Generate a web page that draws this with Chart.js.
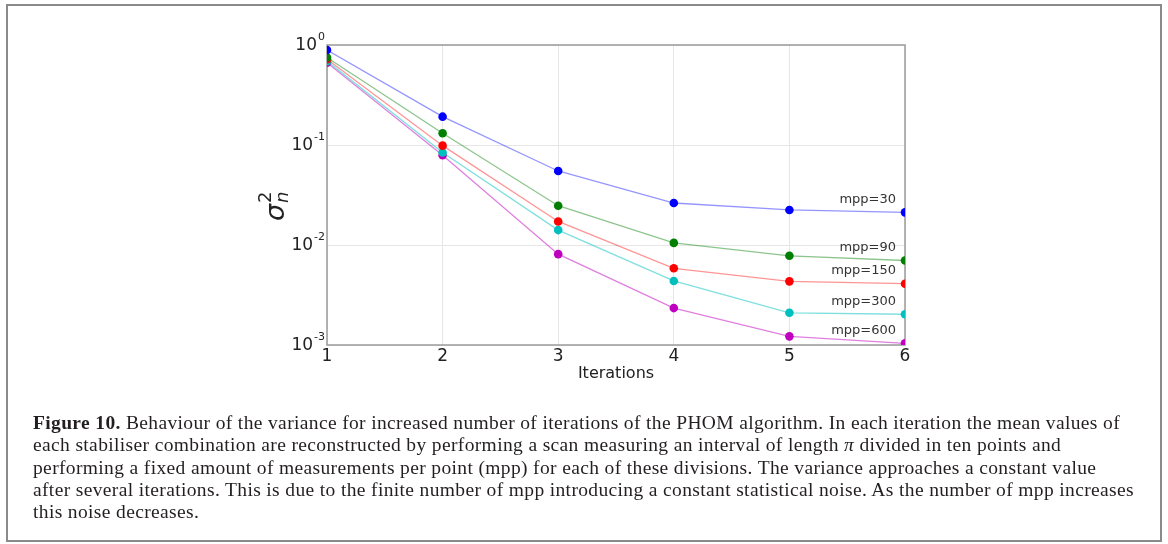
<!DOCTYPE html>
<html>
<head>
<meta charset="utf-8">
<script src="https://cdn.jsdelivr.net/npm/chart.js@4"></script>
<style>
  html, body { margin: 0; padding: 0; background: #fff; }
  #wrap { position: relative; width: 1168px; height: 544px; overflow: hidden; }
  #frame { position: absolute; left: 6px; top: 4px; width: 1156px; height: 538px; border: 2px solid #8a8a8a; box-sizing: border-box; }
  canvas { position: absolute; left: 0; top: 0; }
  #caption { position: absolute; left: 33px; top: 412px; font-family: "Liberation Serif", "DejaVu Serif", serif;
             font-size: 19.5px; letter-spacing: 0.36px; line-height: 22.3px; color: #231f20; white-space: nowrap; }
</style>
</head>
<body>
<div id="wrap">
  <div id="frame"></div>
  <canvas id="myChart" width="1168" height="544"></canvas>
  <div id="caption">
    <div><b>Figure 10.</b> Behaviour of the variance for increased number of iterations of the PHOM algorithm. In each iteration the mean values of</div>
    <div>each stabiliser combination are reconstructed by performing a scan measuring an interval of length <i>π</i> divided in ten points and</div>
    <div>performing a fixed amount of measurements per point (mpp) for each of these divisions. The variance approaches a constant value</div>
    <div>after several iterations. This is due to the finite number of mpp introducing a constant statistical noise. As the number of mpp increases</div>
    <div>this noise decreases.</div>
  </div>
</div>
<script>
// data
const iterations = [1, 2, 3, 4, 5, 6];
const mpp30  = [0.89, 0.192, 0.055, 0.0263, 0.0224, 0.0212];
const mpp90  = [0.75, 0.131, 0.0247, 0.0105, 0.0078, 0.0070];
const mpp150 = [0.72, 0.0985, 0.0172, 0.00585, 0.00433, 0.0041];
const mpp300 = [0.69, 0.084, 0.0141, 0.00437, 0.0021, 0.00203];
const mpp600 = [0.665, 0.079, 0.0081, 0.00234, 0.00122, 0.00104];
const seriesLabels = ['mpp=30', 'mpp=90', 'mpp=150', 'mpp=300', 'mpp=600'];
const yMajorTicks = [1, 0.1, 0.01, 0.001];
const yTickExponents = ['0', '-1', '-2', '-3'];

const markerColors = ['#0000ff', '#007f00', '#ff0000', '#00bfbf', '#bf00bf'];
const lineColors = ['rgba(0,0,255,0.42)', 'rgba(0,127,0,0.45)', 'rgba(255,0,0,0.42)', 'rgba(0,191,191,0.5)', 'rgba(191,0,191,0.5)'];

function makeSet(values, i) {
    return {
        label: seriesLabels[i],
        data: values.map((v, k) => ({ x: iterations[k], y: v })),
        borderColor: lineColors[i],
        backgroundColor: markerColors[i],
        pointBorderColor: markerColors[i],
        pointBackgroundColor: markerColors[i],
        borderWidth: 1.3,
        pointRadius: 4.3,
        pointBorderWidth: 0,
        tension: 0
    };
}

const sansFont = '"DejaVu Sans", sans-serif';

// frame, y tick labels, axis titles, series labels
const decorPlugin = {
    id: 'decor',
    beforeDatasetsDraw(chart) {
        const ctx = chart.ctx;
        const a = chart.chartArea;
        ctx.save();
        ctx.strokeStyle = '#a0a0a0';
        ctx.lineWidth = 1.6;
        ctx.strokeRect(a.left, a.top, a.right - a.left, a.bottom - a.top);
        ctx.restore();
    },
    afterDatasetsDraw(chart) {
        const ctx = chart.ctx;
        const a = chart.chartArea;
        const xs = chart.scales.x;
        const ys = chart.scales.y;
        ctx.save();
        ctx.fillStyle = '#222';

        // y tick labels 10^n
        yMajorTicks.forEach((t, i) => {
            const py = ys.getPixelForValue(t);
            const exp = yTickExponents[i];
            ctx.font = '11px ' + sansFont;
            ctx.textBaseline = 'middle';
            ctx.textAlign = 'right';
            const ew = ctx.measureText(exp).width;
            const right = a.left - 2;
            ctx.fillText(exp, right, py - 8);
            ctx.font = '17px ' + sansFont;
            ctx.fillText('10', right - ew - 1, py + 1);
        });

        // x title
        ctx.font = '16px ' + sansFont;
        ctx.textAlign = 'center';
        ctx.textBaseline = 'middle';
        ctx.fillText('Iterations', (a.left + a.right) / 2, a.bottom + 29);

        // y title sigma_n^2
        ctx.save();
        ctx.translate(a.left - 43, (a.top + a.bottom) / 2 + 26);
        ctx.rotate(-Math.PI / 2);
        ctx.textAlign = 'left';
        ctx.textBaseline = 'alphabetic';
        ctx.font = 'italic 27px ' + sansFont;
        ctx.fillText('σ', 0, 0);
        const sw = ctx.measureText('σ').width;
        ctx.font = 'italic 18px ' + sansFont;
        ctx.fillText('n', sw + 1, 4);
        ctx.font = '18px ' + sansFont;
        ctx.fillText('2', sw + 1, -13);
        ctx.restore();

        // series labels, right aligned above the last point
        ctx.font = '13px ' + sansFont;
        ctx.fillStyle = '#333';
        ctx.textAlign = 'right';
        ctx.textBaseline = 'middle';
        chart.data.datasets.forEach((ds) => {
            const last = ds.data[ds.data.length - 1];
            const px = xs.getPixelForValue(last.x);
            const py = ys.getPixelForValue(last.y);
            ctx.fillText(ds.label, px - 9, py - 13);
        });
        ctx.restore();
    }
};

let lineCtx = document.getElementById('myChart').getContext('2d');
let myChart = new Chart(lineCtx, {
    type: 'line',
    data: {
        datasets: [mpp30, mpp90, mpp150, mpp300, mpp600].map(makeSet)
    },
    options: {
        responsive: false,
        animation: false,
        layout: { padding: { left: 0, top: 45, right: 263, bottom: 169 } },
        plugins: {
            legend: { display: false },
            tooltip: { enabled: false }
        },
        scales: {
            x: {
                type: 'linear',
                min: 1,
                max: 6,
                ticks: {
                    stepSize: 1,
                    color: '#222',
                    font: { family: sansFont, size: 17 },
                    padding: 1,
                    maxRotation: 0
                },
                grid: { color: '#e6e6e6', lineWidth: 1, drawTicks: false },
                border: { display: false },
                afterFit(scale) { scale.height = 30; }
            },
            y: {
                type: 'logarithmic',
                min: 0.001,
                max: 1,
                afterBuildTicks(scale) {
                    scale.ticks = yMajorTicks.map(v => ({ value: v }));
                },
                ticks: { display: false },
                grid: { color: '#e6e6e6', lineWidth: 1, drawTicks: false },
                border: { display: false },
                afterFit(scale) { scale.width = 327; }
            }
        }
    },
    plugins: [decorPlugin]
});
</script>
</body>
</html>
